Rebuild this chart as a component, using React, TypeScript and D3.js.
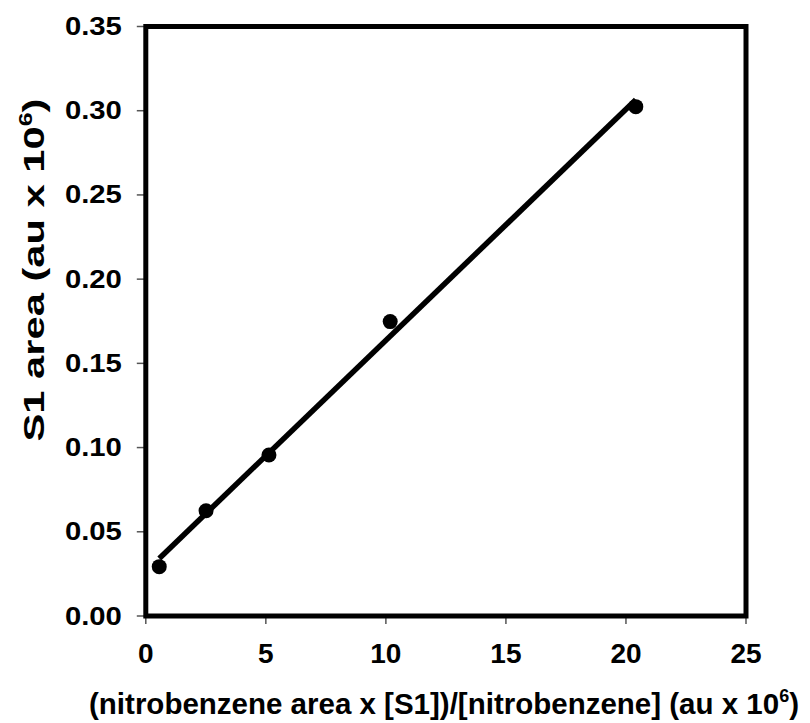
import * as d3 from 'd3'

// x: (nitrobenzene area x [S1])/[nitrobenzene], y: S1 area
const xValues = [0.56, 2.51, 5.13, 10.18, 20.41]
const yValues = [0.0293, 0.0625, 0.0956, 0.1748, 0.3024]
const xTicks = [0, 5, 10, 15, 20, 25]
const yTicks = [0, 0.05, 0.1, 0.15, 0.2, 0.25, 0.3, 0.35]

const font = '"Liberation Sans", Arial, sans-serif'

// least squares trend line through the points
const fitLine = (xs: number[], ys: number[]) => {
  const mx = d3.mean(xs)!
  const my = d3.mean(ys)!
  const sxy = d3.sum(xs, (x, i) => (x - mx) * (ys[i] - my))
  const sxx = d3.sum(xs, x => (x - mx) ** 2)
  const slope = sxy / sxx
  const intercept = my - slope * mx
  const [x0, x1] = d3.extent(xs) as [number, number]
  return [[x0, intercept + slope * x0], [x1, intercept + slope * x1]] as [number, number][]
}

export default function App() {
  const width = 810
  const height = 723
  const marginLeft = 145.8
  const marginRight = 64
  const marginTop = 26.5
  const marginBottom = 107

  const x = d3.scaleLinear([0, 25], [marginLeft, width - marginRight])
  const y = d3.scaleLinear([0, 0.35], [height - marginBottom, marginTop])

  const line = d3.line<[number, number]>(d => x(d[0]), d => y(d[1]))
  const fit = fitLine(xValues, yValues)

  return (
    <svg width={width} height={height}
         style={{position: 'absolute', left: 0, top: 0, background: '#fff'}}
         fontFamily={font} fontWeight="bold">
      {/* ticks */}
      {yTicks.map(t => (
        <g key={'y' + t}>
          <line x1={x(0) - 9} x2={x(0)} y1={y(t)} y2={y(t)} stroke="#555" strokeWidth={1.5}/>
          <text transform={`translate(${x(0) - 24},${y(t) + 8.5}) scale(1.17,1)`}
                textAnchor="end" fontSize={25} fill="#000">{t.toFixed(2)}</text>
        </g>
      ))}
      {xTicks.map(t => (
        <g key={'x' + t}>
          <line x1={x(t)} x2={x(t)} y1={y(0)} y2={y(0) + 8} stroke="#555" strokeWidth={1.5}/>
          <text x={x(t)} y={663} textAnchor="middle" fontSize={28} fill="#000">{t}</text>
        </g>
      ))}

      {/* frame */}
      <rect x={x(0)} y={y(0.35)} width={x(25) - x(0)} height={y(0) - y(0.35)}
            fill="none" stroke="#000" strokeWidth={5}/>

      {/* trend line */}
      <path d={line(fit) ?? ''} fill="none" stroke="#000" strokeWidth={5.5}/>

      {/* points */}
      {xValues.map((v, i) => (
        <circle key={i} cx={x(v)} cy={y(yValues[i])} r={7.5} fill="#000"/>
      ))}

      {/* axis titles */}
      <text x={444} y={714} textAnchor="middle" fontSize={29.5} fill="#000">
        (nitrobenzene area x [S1])/[nitrobenzene] (au x 10<tspan dy={-12} fontSize={18}>6</tspan><tspan dy={12}>)</tspan>
      </text>
      <text transform={`translate(43.5,270) rotate(-90) scale(1.39,1)`} textAnchor="middle"
            fontSize={30} fill="#000">
        S1 area (au x 10<tspan dy={-12} fontSize={18}>6</tspan><tspan dy={12}>)</tspan>
      </text>
    </svg>
  )
}
